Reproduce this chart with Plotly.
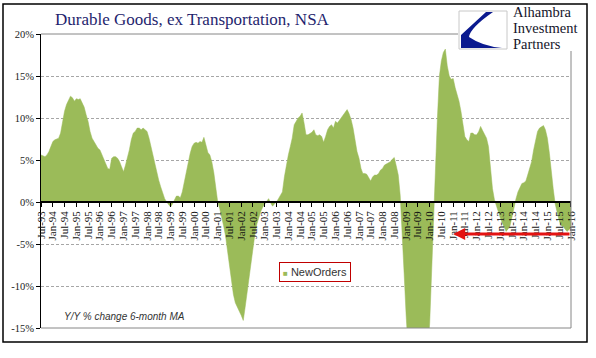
import plotly.graph_objects as go
import pandas as pd

# ---------------- data (Y/Y % change, 6-month MA), monthly Jul-93 .. Jan-16
y1993 = [5.6, 5.5, 5.4, 5.6, 6.0, 6.6]  # Jul-Dec
y1994 = [7.2, 7.4, 7.5, 7.6, 8.2, 9.8, 10.8, 11.6, 12.2, 12.6, 12.4, 12.0]
y1995 = [12.3, 12.2, 12.3, 11.8, 11.3, 10.4, 9.6, 8.4, 7.6, 7.2, 6.8, 6.4]
y1996 = [6.2, 5.6, 5.0, 4.5, 4.0, 3.9, 5.2, 5.4, 5.4, 5.2, 4.8, 4.2]
y1997 = [3.6, 4.4, 5.2, 6.2, 7.4, 8.2, 8.4, 8.8, 8.8, 8.6, 8.8, 8.6]
y1998 = [8.4, 7.6, 6.6, 5.6, 4.6, 3.6, 2.6, 1.8, 1.0, 0.4, 0.0, -0.3]
y1999 = [-0.6, -0.2, 0.2, 0.7, 0.7, 0.5, 1.2, 2.4, 3.8, 4.6, 5.8, 6.6]
y2000 = [7.0, 7.1, 7.0, 7.2, 7.1, 7.7, 6.6, 5.9, 5.6, 4.8, 3.5, 1.8]
y2001 = [0.0, -0.8, -1.6, -2.8, -4.0, -5.8, -7.4, -9.6, -11.0, -12.0, -12.6, -13.0]
y2002 = [-13.5, -14.1, -12.6, -10.8, -9.0, -7.0, -5.2, -3.8, -2.6, -1.8, -1.1, -0.6]
y2003 = [-0.2, 0.2, 0.4, -0.1, -0.5, -0.2, 0.0, 0.4, 0.8, 1.2, 3.0, 4.4]
y2004 = [5.6, 6.6, 7.6, 9.2, 9.7, 10.0, 10.2, 10.6, 9.4, 8.0, 8.0, 8.1]
y2005 = [8.3, 8.6, 8.0, 7.9, 8.0, 7.8, 7.1, 7.8, 8.6, 9.0, 9.2, 8.8]
y2006 = [9.6, 9.4, 9.7, 9.9, 10.2, 10.6, 11.0, 10.5, 9.8, 8.8, 7.4, 6.0]
y2007 = [5.2, 4.0, 3.4, 3.4, 3.3, 2.8, 2.5, 3.0, 3.2, 3.2, 3.4, 3.8]
y2008 = [4.0, 4.4, 4.5, 4.6, 4.8, 5.1, 5.3, 4.3, 3.2, 0.8, -3.2, -8.5]
y2009 = [-13.5, -19.0, -23.0, -25.0, -26.0, -26.0, -25.5, -24.5, -23.0, -21.5, -19.5, -17.5]
y2010 = [-14.5, -8.0, -0.5, 5.0, 10.0, 15.0, 16.8, 17.8, 18.2, 16.2, 15.0, 14.6]
y2011 = [14.7, 13.6, 12.9, 12.0, 10.8, 9.0, 7.8, 7.4, 7.2, 8.2, 8.2, 8.0]
y2012 = [8.0, 8.4, 9.0, 8.5, 8.0, 7.6, 6.6, 3.8, 1.6, 0.3, -0.5, -1.2]
y2013 = [-1.9, -2.5, -3.1, -3.5, -3.2, -2.8, -1.8, -0.6, 0.4, 1.2, 1.8, 2.2]
y2014 = [2.3, 2.5, 3.2, 4.2, 4.8, 6.2, 7.2, 8.4, 8.8, 9.0, 9.1, 8.6]
y2015 = [7.6, 5.8, 3.6, 1.6, -0.2, -1.4, -2.2, -2.8, -2.9, -3.2, -3.5, -3.3]
y2016 = [-3.0]  # Jan

series_name = "NewOrders"
start_month = "1993-07-01"
x_range = ["1993-07-01", "2016-01-02"]

y_tick_vals = [-15, -10, -5, 0, 5, 10, 15, 20]
y_tick_text = ["-15%", "-10%", "-5%", "0%", "5%", "10%", "15%", "20%"]
y_range = [-15, 20]

# red "level" arrow
arrow_tip_date = "2011-01-01"
arrow_tail_date = "2016-01-01"
arrow_level = -3.8

title_text = "Durable Goods, ex Transportation, NSA"
note_text = "Y/Y % change 6-month MA"
logo_lines = ["Alhambra", "Investment", "Partners"]

# ---------------- build
values = (y1993 + y1994 + y1995 + y1996 + y1997 + y1998 + y1999 + y2000 + y2001
          + y2002 + y2003 + y2004 + y2005 + y2006 + y2007 + y2008 + y2009 + y2010
          + y2011 + y2012 + y2013 + y2014 + y2015 + y2016)
dates = pd.date_range(start=start_month, periods=len(values), freq="MS")

W_FIG, H_FIG = 596, 358
L, R, T, B = 41, 571, 34, 328


def px(x):
    return (x - L) / (R - L)


def py(y):
    return (B - y) / (B - T)


GREEN = "#9bbb59"

fig = go.Figure()
fig.add_trace(go.Scatter(
    x=dates, y=values, mode="lines", name=series_name,
    fill="tozeroy", fillcolor=GREEN,
    line=dict(color=GREEN, width=0.5), showlegend=False,
))

shapes = []
# plot-area frame (top, right, bottom) in gray
for (x0, y0, x1, y1) in [(0, 1, 1, 1), (1, 0, 1, 1), (0, 0, 1, 0)]:
    shapes.append(dict(type="line", xref="paper", yref="paper", x0=x0, y0=y0, x1=x1, y1=y1,
                       line=dict(color="#868686", width=1), layer="above"))
# white area behind logo
shapes.append(dict(type="rect", xref="paper", yref="paper",
                   x0=px(458), x1=px(586), y0=py(51), y1=py(5),
                   fillcolor="white", line=dict(width=0), layer="above"))
# logo box
shapes.append(dict(type="rect", xref="paper", yref="paper",
                   x0=px(459), x1=px(507), y0=py(49), y1=py(11),
                   fillcolor="white", line=dict(color="#c8c8c8", width=1), layer="above"))
# logo swoosh
path = (f"M {px(486)},{py(12)} L {px(493)},{py(12)} "
        f"Q {px(470)},{py(28)} {px(469)},{py(37)} "
        f"Q {px(482)},{py(46)} {px(502)},{py(48)} "
        f"L {px(461)},{py(48)} L {px(461)},{py(35)} Z")
shapes.append(dict(type="path", xref="paper", yref="paper", path=path,
                   fillcolor="#0b1a8f", line=dict(width=0), layer="above"))
# outer frame
shapes.append(dict(type="rect", xref="paper", yref="paper",
                   x0=px(3), x1=px(587), y0=py(342), y1=py(4),
                   fillcolor="rgba(0,0,0,0)", line=dict(color="black", width=1.5), layer="above"))

annotations = [
    dict(xref="paper", yref="paper", x=px(53), y=py(20), xanchor="left", yanchor="middle",
         text=title_text, showarrow=False,
         font=dict(family="Liberation Serif", size=17, color="#1f1f6e")),
    dict(xref="paper", yref="paper", x=px(124), y=py(316), xanchor="center", yanchor="middle",
         text=note_text, showarrow=False,
         font=dict(family="Liberation Sans", size=10, color="#333333", style="italic")),
    dict(xref="paper", yref="paper", x=px(315), y=py(272), xanchor="center", yanchor="middle",
         text=f'<span style="color:{GREEN};font-size:8px">■</span> {series_name}',
         showarrow=False, bgcolor="white", bordercolor="#c00000", borderwidth=1, borderpad=3,
         font=dict(family="Liberation Sans", size=11, color="#333333")),
    dict(x=arrow_tip_date, y=arrow_level, ax=arrow_tail_date, ay=arrow_level,
         xref="x", yref="y", axref="x", ayref="y", text="", showarrow=True,
         arrowhead=2, arrowsize=0.8, arrowwidth=3, arrowcolor="#e41212", standoff=0),
]
for line_text, baseline in zip(logo_lines, [16.5, 33, 49.5]):
    annotations.append(dict(xref="paper", yref="paper", x=px(511), y=py(baseline - 5),
                            xanchor="left", yanchor="middle", text=line_text, showarrow=False,
                            font=dict(family="Liberation Serif", size=14.5, color="#15152a")))

fig.update_layout(
    width=W_FIG, height=H_FIG,
    margin=dict(l=L, r=W_FIG - R, t=T, b=H_FIG - B, pad=0),
    paper_bgcolor="white", plot_bgcolor="white",
    showlegend=False,
    xaxis=dict(
        type="date", range=x_range, tick0=start_month, dtick="M6", tickformat="%b-%y",
        tickangle=-90, ticks="outside", ticklen=4, tickcolor="black", tickwidth=1,
        showline=True, linecolor="black", linewidth=1.5, showgrid=False, zeroline=False,
        anchor="free", position=(0 - y_range[0]) / (y_range[1] - y_range[0]),
        tickfont=dict(family="Liberation Serif", size=11, color="#111111"),
    ),
    yaxis=dict(
        range=y_range, tickvals=y_tick_vals, ticktext=y_tick_text,
        ticks="outside", ticklen=4, tickcolor="black",
        showline=True, linecolor="black", linewidth=1,
        showgrid=True, gridcolor="#a6a6a6", griddash="3px,2px", gridwidth=1,
        zeroline=False,
        tickfont=dict(family="Liberation Serif", size=10.5, color="#222222"),
    ),
    shapes=shapes,
    annotations=annotations,
)

fig.write_html("out.html", config={"displayModeBar": False},
               post_script="document.body.style.margin='0';")
